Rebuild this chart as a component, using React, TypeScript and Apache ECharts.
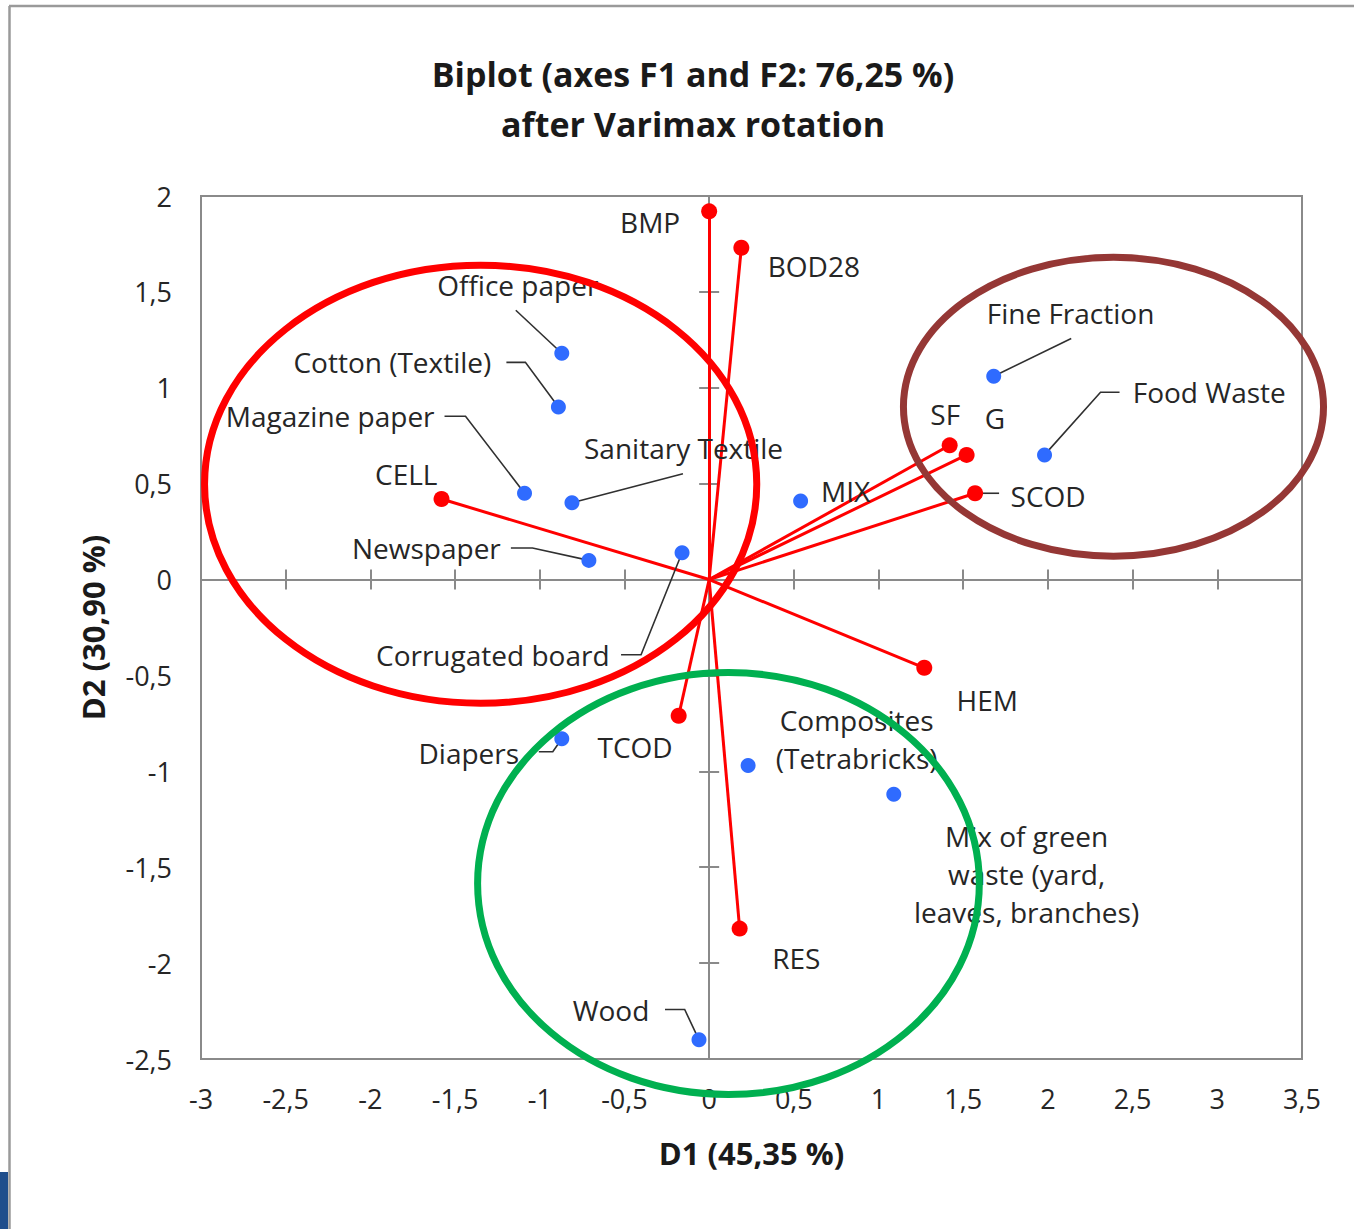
import React, { useEffect, useRef } from "react";
import * as echarts from "echarts";

// ---------- data ----------
const vectorNames = ["BMP", "BOD28", "CELL", "SF", "G", "SCOD", "HEM", "TCOD", "RES"];
const vectorD1 = [0.0, 0.19, -1.58, 1.42, 1.52, 1.57, 1.27, -0.18, 0.18];
const vectorD2 = [1.92, 1.73, 0.42, 0.7, 0.65, 0.45, -0.46, -0.71, -1.82];

const obsNames = [
  "Office paper",
  "Cotton (Textile)",
  "Magazine paper",
  "Sanitary Textile",
  "Newspaper",
  "Corrugated board",
  "MIX",
  "Fine Fraction",
  "Food Waste",
  "Diapers",
  "Wood",
  "Composites\n(Tetrabricks)",
  "Mix of green\nwaste (yard,\nleaves, branches)",
];
const obsD1 = [-0.87, -0.89, -1.09, -0.81, -0.71, -0.16, 0.54, 1.68, 1.98, -0.87, -0.06, 0.23, 1.09];
const obsD2 = [1.18, 0.9, 0.45, 0.4, 0.1, 0.14, 0.41, 1.06, 0.65, -0.83, -2.4, -0.97, -1.12];

const xTicks = { min: -3, max: 3.5, interval: 0.5 };
const yTicks = { min: -2.5, max: 2, interval: 0.5 };

// groups (ellipses) in data units: cx, cy, rx, ry
const groupEllipses = [
  { cx: -1.349, cy: 0.497, rx: 1.63, ry: 1.142, color: "#ff0000" },
  { cx: 0.114, cy: -1.585, rx: 1.481, ry: 1.1, color: "#00b050" },
  { cx: 2.387, cy: 0.901, rx: 1.24, ry: 0.779, color: "#953735" },
];

// ---------- label layout (pixel offsets from the point) ----------
const obsLabelOffset: number[][] = [
  [-44, -68],
  [-166, -44.6],
  [-194.4, -77.3],
  [111.6, -55],
  [-162.5, -12.4],
  [-189.3, 102.3],
  [45, -10],
  [76.8, -63.7],
  [164.7, -62.7],
  [-93, 14.3],
  [-88, -30.3],
  [108.5, -26.5],
  [132.8, 79.2],
];
const obsLeader: (number[][] | null)[] = [
  [[-46, -43], [0, 0]],
  [[-52, -44.6], [-33, -44.6], [0, 0]],
  [[-80, -77], [-59, -77], [0, 0]],
  [[111, -29], [0, 0]],
  [[-78, -12.4], [-56.4, -12.4], [0, 0]],
  [[-61, 102], [-41, 102], [0, 0]],
  null,
  [[77.5, -37.7], [0, 0]],
  [[75, -62.7], [56, -62.7], [0, 0]],
  [[-23, 13], [-9, 13], [0, 0]],
  [[-34, -30.3], [-14.3, -30.3], [0, 0]],
  null,
  null,
];
const vecLabelOffset: number[][] = [
  [-59, 11],
  [72.5, 18.3],
  [-35.3, -25],
  [-4.4, -31.4],
  [28.3, -36.7],
  [73, 3],
  [63, 32.3],
  [-43.6, 31.7],
  [56.7, 29],
];
const vecLeader: (number[][] | null)[] = [null, null, null, null, null, [[24, 0], [0, 0]], null, null, null];

const FONT = '"Open Sans", "Noto Sans", sans-serif';
const TEXT = "#262626";
const AXIS_GRAY = "#8a8a8a";

const fmt = (v: number) => String(v).replace(".", ",");

function makeLabelSeries(names: string[], xs: number[], ys: number[], offs: number[][], leaders: (number[][] | null)[]) {
  return {
    type: "custom",
    coordinateSystem: "cartesian2d",
    silent: true,
    z: 3,
    data: xs.map((x, i) => [x, ys[i]]),
    renderItem: (params: any, api: any) => {
      const i = params.dataIndex;
      const p = api.coord([api.value(0), api.value(1)]);
      const children: any[] = [];
      const ld = leaders[i];
      if (ld) {
        children.push({
          type: "polyline",
          shape: { points: ld.map((q) => [p[0] + q[0], p[1] + q[1]]) },
          style: { stroke: "#303030", lineWidth: 1.6, fill: null },
        });
      }
      children.push({
        type: "text",
        x: p[0] + offs[i][0],
        y: p[1] + offs[i][1],
        style: {
          text: names[i],
          fill: TEXT,
          font: `28px ${FONT}`,
          align: "center",
          verticalAlign: "middle",
          textAlign: "center",
          textVerticalAlign: "middle",
          lineHeight: 38,
        },
      });
      return { type: "group", children };
    },
  };
}

export default function App() {
  const ref = useRef<HTMLDivElement>(null);
  useEffect(() => {
    if (!ref.current) return;
    const chart = echarts.init(ref.current, null, { renderer: "svg" });

    const labelAxisX = {
      type: "value",
      ...xTicks,
      position: "bottom",
      axisLine: { show: false, onZero: false },
      axisTick: { show: false },
      splitLine: { show: false },
      axisLabel: { formatter: fmt, margin: 26, fontSize: 27, fontFamily: FONT, color: TEXT },
      name: "D1 (45,35 %)",
      nameLocation: "middle",
      nameGap: 78,
      nameTextStyle: { fontSize: 31, fontWeight: "bold", fontFamily: FONT, color: "#1a1a1a" },
    };
    const lineAxisX = (inside: boolean) => ({
      type: "value",
      ...xTicks,
      position: "bottom",
      axisLine: { show: true, onZero: true, lineStyle: { color: AXIS_GRAY, width: 2 } },
      axisTick: { show: true, inside, length: 10, lineStyle: { color: AXIS_GRAY, width: 2 } },
      axisLabel: { show: false },
      splitLine: { show: false },
    });
    const labelAxisY = {
      type: "value",
      ...yTicks,
      position: "left",
      axisLine: { show: false, onZero: false },
      axisTick: { show: false },
      splitLine: { show: false },
      axisLabel: { formatter: fmt, margin: 29, fontSize: 27, fontFamily: FONT, color: TEXT },
      name: "D2 (30,90 %)",
      nameLocation: "middle",
      nameGap: 93,
      nameTextStyle: { fontSize: 31, fontWeight: "bold", fontFamily: FONT, color: "#1a1a1a" },
    };
    const lineAxisY = (inside: boolean) => ({
      type: "value",
      ...yTicks,
      position: "left",
      axisLine: { show: true, onZero: true, lineStyle: { color: AXIS_GRAY, width: 2 } },
      axisTick: { show: true, inside, length: 10, lineStyle: { color: AXIS_GRAY, width: 2 } },
      axisLabel: { show: false },
      splitLine: { show: false },
    });

    chart.setOption({
      animation: false,
      title: {
        text: "Biplot (axes F1 and F2: 76,25 %)\nafter Varimax rotation",
        left: 688,
        top: 44,
        textAlign: "center",
        textStyle: { fontSize: 34, fontWeight: "bold", fontFamily: FONT, color: "#1a1a1a", lineHeight: 50 },
      },
      grid: {
        left: 201,
        top: 196,
        right: 52,
        bottom: 170,
        show: true,
        borderColor: AXIS_GRAY,
        borderWidth: 2,
        backgroundColor: "transparent",
      },
      xAxis: [labelAxisX, lineAxisX(true), lineAxisX(false)],
      yAxis: [labelAxisY, lineAxisY(true), lineAxisY(false)],
      series: [
        {
          type: "lines",
          coordinateSystem: "cartesian2d",
          silent: true,
          z: 2,
          lineStyle: { color: "#ff0000", width: 3, opacity: 1 },
          data: vectorD1.map((x, i) => ({ coords: [[0, 0], [x, vectorD2[i]]] })),
        },
        {
          type: "scatter",
          name: "Variables",
          z: 4,
          symbolSize: 16,
          itemStyle: { color: "#ff0000", opacity: 1 },
          data: vectorD1.map((x, i) => ({ name: vectorNames[i], value: [x, vectorD2[i]] })),
        },
        {
          type: "scatter",
          name: "Observations",
          z: 4,
          symbolSize: 15,
          itemStyle: { color: "#2f6bff", opacity: 1 },
          data: obsD1.map((x, i) => ({ name: obsNames[i], value: [x, obsD2[i]] })),
        },
        makeLabelSeries(obsNames, obsD1, obsD2, obsLabelOffset, obsLeader),
        makeLabelSeries(vectorNames, vectorD1, vectorD2, vecLabelOffset, vecLeader),
      ],
    });

    const toPx = (p: number[]) => chart.convertToPixel({ xAxisIndex: 0, yAxisIndex: 0 }, p) as number[];
    const ellipses = groupEllipses.map((e) => {
      const c = toPx([e.cx, e.cy]);
      const ex = toPx([e.cx + e.rx, e.cy]);
      const ey = toPx([e.cx, e.cy + e.ry]);
      return {
        type: "ellipse",
        z: 100,
        silent: true,
        shape: { cx: c[0], cy: c[1], rx: Math.abs(ex[0] - c[0]), ry: Math.abs(c[1] - ey[1]) },
        style: { fill: "none", stroke: e.color, lineWidth: 7 },
      };
    });
    chart.setOption({
      graphic: {
        elements: [
          { type: "line", silent: true, z: 1, shape: { x1: 9, y1: 6, x2: 1354, y2: 6 }, style: { stroke: "#9a9a9a", lineWidth: 2.5 } },
          { type: "line", silent: true, z: 1, shape: { x1: 9.5, y1: 6, x2: 9.5, y2: 1229 }, style: { stroke: "#9a9a9a", lineWidth: 2.5 } },
          { type: "rect", silent: true, z: 1, shape: { x: 0, y: 1172, width: 8, height: 57 }, style: { fill: "#1f4e8c" } },
          ...ellipses,
        ],
      },
    });

    return () => chart.dispose();
  }, []);
  return <div ref={ref} style={{ position: "absolute", left: 0, top: 0, width: 1354, height: 1229 }} />;
}
